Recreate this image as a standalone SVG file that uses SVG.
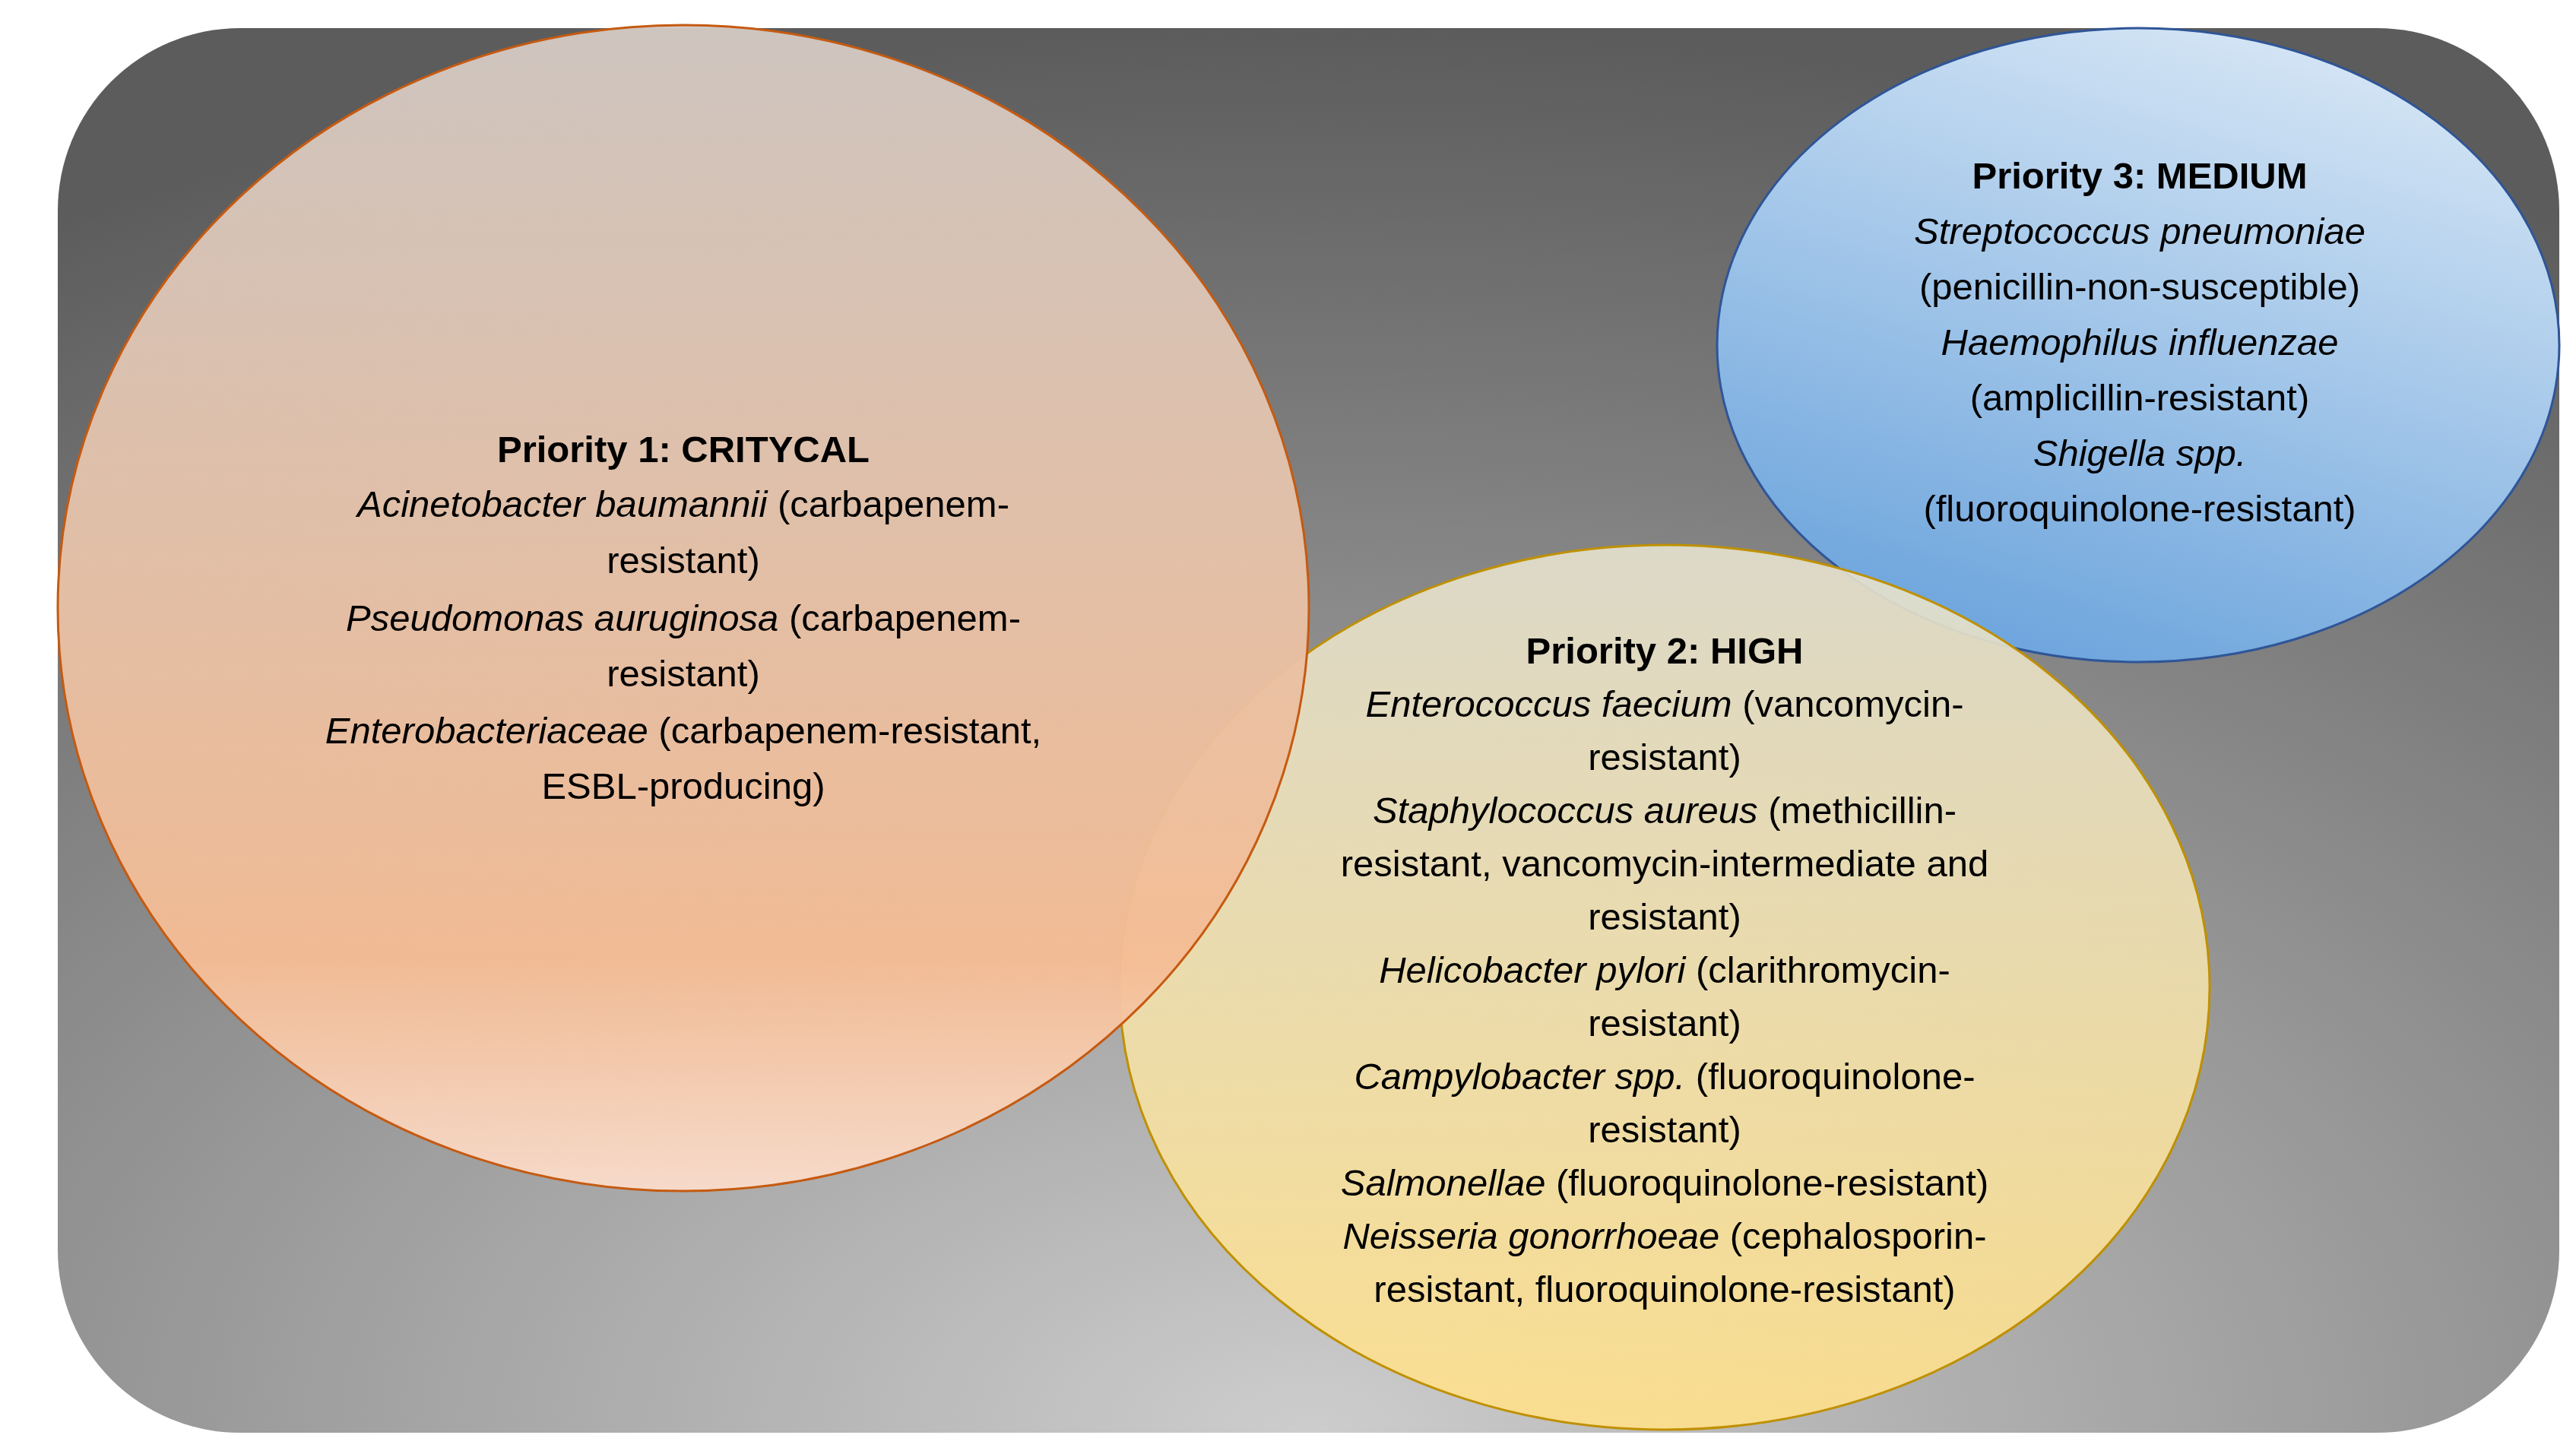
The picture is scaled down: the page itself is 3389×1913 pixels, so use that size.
<svg xmlns="http://www.w3.org/2000/svg" width="3389" height="1913" viewBox="0 0 3389 1913">
<defs>
<radialGradient id="bg" cx="0.5" cy="1" r="1" gradientUnits="objectBoundingBox">
<stop offset="0" stop-color="#cdcdcd"/><stop offset="0.55" stop-color="#8e8e8e"/><stop offset="1" stop-color="#5c5c5c"/>
</radialGradient>
<linearGradient id="g1" x1="0" y1="0" x2="0" y2="1">
<stop offset="0" stop-color="#d3c9c3"/><stop offset="0.8" stop-color="#f4bc94"/><stop offset="1" stop-color="#f9dccb"/>
</linearGradient>
<linearGradient id="g2" x1="0" y1="0" x2="0" y2="1">
<stop offset="0" stop-color="#e6e2cf"/><stop offset="1" stop-color="#ffe08a"/>
</linearGradient>
<linearGradient id="g3" x1="0.7" y1="0" x2="0.3" y2="1">
<stop offset="0" stop-color="#d6e6f5"/><stop offset="1" stop-color="#6aa3dc"/>
</linearGradient>
</defs>
<style>
text{font-family:"Liberation Sans",Arial,sans-serif;font-size:49px;fill:#000;text-anchor:middle}
.b{font-weight:bold}
.i{font-style:italic}
</style>
<rect x="76" y="37" width="3291" height="1848" rx="240" fill="url(#bg)"/>
<g id="medium">
<ellipse cx="2813" cy="454" rx="554" ry="417" fill="url(#g3)" stroke="#2f5597" stroke-width="3"/>
</g>
<g id="high">
<ellipse cx="2190" cy="1299" rx="717" ry="582" fill="url(#g2)" fill-opacity="0.9" stroke="#bf9000" stroke-width="3"/>
</g>
<g id="critical">
<ellipse cx="899" cy="800" rx="823" ry="767" fill="url(#g1)" fill-opacity="0.96" stroke="#c55a11" stroke-width="3"/>
</g>
<g id="critical-text">
<text x="899" y="608" class="b">Priority 1: CRITYCAL</text>
<text x="899" y="680"><tspan class="i">Acinetobacter baumannii</tspan> (carbapenem-</text>
<text x="899" y="754">resistant)</text>
<text x="899" y="830"><tspan class="i">Pseudomonas auruginosa</tspan> (carbapenem-</text>
<text x="899" y="903">resistant)</text>
<text x="899" y="978"><tspan class="i">Enterobacteriaceae</tspan> (carbapenem-resistant,</text>
<text x="899" y="1051">ESBL-producing)</text>
</g>
<g id="medium-text">
<text x="2815" y="248" class="b">Priority 3: MEDIUM</text>
<text x="2815" y="321" class="i">Streptococcus pneumoniae</text>
<text x="2815" y="394">(penicillin-non-susceptible)</text>
<text x="2815" y="467" class="i">Haemophilus influenzae</text>
<text x="2815" y="540">(amplicillin-resistant)</text>
<text x="2815" y="613" class="i">Shigella spp.</text>
<text x="2815" y="686">(fluoroquinolone-resistant)</text>
</g>
<g id="high-text">
<text x="2190" y="873" class="b">Priority 2: HIGH</text>
<text x="2190" y="943"><tspan class="i">Enterococcus faecium</tspan> (vancomycin-</text>
<text x="2190" y="1013">resistant)</text>
<text x="2190" y="1083"><tspan class="i">Staphylococcus aureus</tspan> (methicillin-</text>
<text x="2190" y="1153">resistant, vancomycin-intermediate and</text>
<text x="2190" y="1223">resistant)</text>
<text x="2190" y="1293"><tspan class="i">Helicobacter pylori</tspan> (clarithromycin-</text>
<text x="2190" y="1363">resistant)</text>
<text x="2190" y="1433"><tspan class="i">Campylobacter spp.</tspan> (fluoroquinolone-</text>
<text x="2190" y="1503">resistant)</text>
<text x="2190" y="1573"><tspan class="i">Salmonellae</tspan> (fluoroquinolone-resistant)</text>
<text x="2190" y="1643"><tspan class="i">Neisseria gonorrhoeae</tspan> (cephalosporin-</text>
<text x="2190" y="1713">resistant, fluoroquinolone-resistant)</text>
</g>
<g id="connectors"/>
</svg>
